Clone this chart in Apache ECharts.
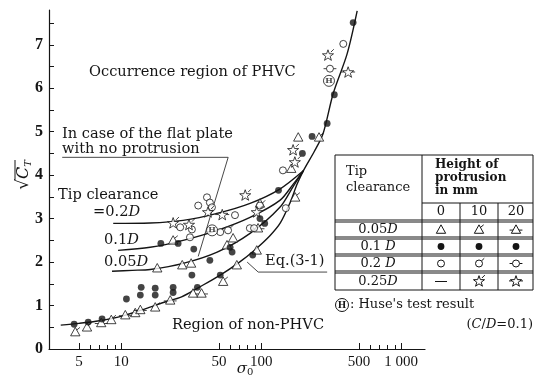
<!DOCTYPE html>
<html><head><meta charset="utf-8">
<script src="https://cdn.jsdelivr.net/npm/echarts@6/dist/echarts.min.js"></script>
<style>html,body{margin:0;padding:0;background:#fff}#c{width:540px;height:382px}</style>
</head><body><div id="c"></div>
<script>
// ---------- axis ticks ----------
const xTickLabels = [5, 10, 50, 100, 500, 1000];
const xMinorTicks = [5, 6, 7, 8, 9, 10, 50, 60, 70, 80, 90, 100, 500, 600, 700, 800, 900, 1000];
const yTickLabels = [0, 1, 2, 3, 4, 5, 6, 7];
const yTicks = [0, 0.5, 1, 1.5, 2, 2.5, 3, 3.5, 4, 4.5, 5, 5.5, 6, 6.5, 7, 7.5];

// ---------- curves [sigma0, sqrtCT] ----------
const curveEq = [[3.7,0.55],[5,0.59],[7,0.65],[10,0.75],[15,0.93],[20,1.07],[27,1.2],[36,1.42],[51,1.7],[70,2.0],[90,2.28],[115,2.6],[137,2.9],[160,3.35],[181,3.8],[200,4.1],[240,4.55],[277,4.96],[327,5.88],[411,6.79],[485,7.78]];
const curve005 = [[8.6,1.79],[12,1.81],[16.1,1.83],[27.7,1.97],[48.5,2.23],[83.3,2.66],[136,3.26],[170,3.75],[200,4.1]];
const curve01 = [[9.5,2.27],[16.1,2.34],[27.7,2.5],[48.5,2.73],[83.3,3.03],[136,3.42],[170,3.8],[200,4.1]];
const curve02 = [[8.77,2.89],[16.1,2.9],[27.7,2.96],[48.5,3.12],[83.3,3.35],[136,3.68],[200,4.1]];

// ---------- annotation leader lines ----------
const leaderFlat = [[3.79,4.41],[58.1,4.41],[35.5,2.13]];
const leaderEq = [[79.4,2.0],[95.2,1.77],[296,1.77]];

// ---------- measured points ----------
const tri0 = [[27.3,1.93],[31.6,1.97],[18.1,1.86],[57,2.39],[63,2.55],[93,2.27],[98,3.35],[184,4.87],[164,4.15],[32.6,1.28],[67,1.93]];
const tri10 = [[4.7,0.39],[5.7,0.5],[8.5,0.67],[12.6,0.83],[17.5,0.96],[53.5,1.55],[259,4.87],[175,3.49],[23.5,2.5]];
const tri20 = [[7.2,0.6],[10.7,0.78],[13.7,0.9],[22.4,1.12],[37.5,1.28],[95,2.78]];
const dots = [[4.61,0.57],[5.81,0.62],[7.3,0.69],[10.9,1.15],[13.7,1.24],[13.9,1.42],[17.5,1.24],[17.5,1.4],[23.5,1.42],[23.5,1.3],[35,1.42],[32,1.7],[51,1.7],[33,2.3],[19.2,2.43],[25.5,2.43],[43,2.04],[60,2.34],[62,2.23],[87,2.16],[98,3.0],[106,2.89],[133,3.65],[197,4.5],[231,4.89],[296,5.19],[333,5.85],[454,7.51]];
const circ0 = [[26.4,2.8],[32,2.75],[35.5,3.3],[41,3.49],[43,3.37],[44.5,3.26],[65,3.08],[83,2.78],[89,2.78],[150,3.24],[386,7.02],[143,4.11],[31,2.57]];
const circ10 = [[51,2.69],[58,2.73],[98,3.3]];
const circ20 = [[310,6.45]];
const star10 = [[23.5,2.89],[30.5,2.85],[41.7,3.14],[76.9,3.53],[169,4.57],[174,4.29],[300,6.75],[93,3.14]];
const star20 = [[52.7,3.08],[418,6.36]];
const huse = [[44.6,2.73],[305,6.17]];

// ---------- symbol shapes (24x24 box) ----------
const BOX = 'M0,0M24,24';
const TRI = 'M12,4L20,18.5L4,18.5Z';
const CIR = 'M12,6A6,6,0,1,1,11.99,6Z';
const STAR = 'M12,2L14.35,8.76L21.51,8.91L15.8,13.24L17.88,20.09L12,16L6.12,20.09L8.2,13.24L2.49,8.91L9.65,8.76Z';
const P = {
  tri0: BOX + TRI,
  tri10: BOX + TRI + 'M14.5,8.5L20,4',
  tri20: BOX + TRI + 'M1,13L7,13M17,13L23,13',
  circ0: BOX + CIR,
  circ10: BOX + CIR + 'M16.2,7.8L21,3',
  circ20: BOX + CIR + 'M1,12L6,12M18,12L23,12',
  star10: BOX + STAR + 'M17,6L22,1',
  star20: BOX + STAR + 'M0,11L5,11M19,11L24,11'
};
const INK = '#151515';
const SERIF = '"DejaVu Serif", serif';

function scat(name, data, pathKey) {
  return { name, type: 'scatter', data, symbol: 'path://' + P[pathKey], symbolSize: 14, symbolKeepAspect: true,
    itemStyle: { color: '#fff', borderColor: INK, borderWidth: 1 }, z: 5, silent: true };
}
function curve(name, data, w) {
  return { name, type: 'line', data, showSymbol: false, smooth: 0.3, lineStyle: { color: INK, width: w || 1.4 }, z: 3, silent: true };
}
function leader(name, data) {
  return { name, type: 'line', data, showSymbol: false, smooth: false, lineStyle: { color: '#333', width: 0.9 }, z: 2, silent: true };
}

const series = [
  curve('Eq.(3-1)', curveEq), curve('0.05D', curve005), curve('0.1D', curve01), curve('0.2D', curve02),
  leader('leaderFlat', leaderFlat), leader('leaderEq', leaderEq),
  scat('tri0', tri0, 'tri0'), scat('tri10', tri10, 'tri10'), scat('tri20', tri20, 'tri20'),
  scat('circ0', circ0, 'circ0'), scat('circ10', circ10, 'circ10'), scat('circ20', circ20, 'circ20'),
  scat('star10', star10, 'star10'), scat('star20', star20, 'star20'),
  { name: 'dots', type: 'scatter', data: dots, symbol: 'circle', symbolSize: 6.8, itemStyle: { color: INK }, z: 6, silent: true },
  { name: 'huse', type: 'scatter', data: huse, symbol: 'circle', symbolSize: 11, z: 7, silent: true,
    itemStyle: { color: '#fff', borderColor: INK, borderWidth: 1 },
    label: { show: true, position: 'inside', formatter: 'H', fontSize: 8, fontWeight: 'bold', color: INK, fontFamily: SERIF } }
];

// ---------- text & table graphics ----------
const G = [];
function txt(x, y, text, size, opt) {
  opt = opt || {};
  G.push({ type: 'text', x, y, z: opt.z || 20, silent: true, style: Object.assign({
    text, font: (opt.weight || 'normal') + ' ' + size + 'px ' + SERIF, fill: INK,
    textAlign: opt.align || 'left', textVerticalAlign: 'middle', verticalAlign: 'middle'
  }, opt.rich ? { rich: opt.rich } : {}) });
}
function ln(x1, y1, x2, y2, w) {
  G.push({ type: 'line', z: 20, silent: true, shape: { x1, y1, x2, y2 }, style: { stroke: INK, lineWidth: w || 1 } });
}
const it = (s) => ({ i: { fontStyle: 'italic', fontSize: s, fontFamily: SERIF } });

const AF = 14.6;
txt(89, 72, 'Occurrence region of PHVC', AF);
txt(62, 134, 'In case of the flat plate', AF);
txt(62, 149, 'with no protrusion', AF);
txt(58, 195, 'Tip clearance', AF);
txt(93, 212, '=0.2{i|D}', AF, { rich: it(AF) });
txt(104, 240, '0.1{i|D}', AF, { rich: it(AF) });
txt(104, 262, '0.05{i|D}', AF, { rich: it(AF) });
txt(265, 261, 'Eq.(3-1)', AF);
txt(172, 325, 'Region of non-PHVC', AF);

// table
const TL = 335, TR = 533, C1 = 422, C2 = 460, C3 = 498;
ln(TL, 155, TR, 155); ln(C1, 203, TR, 203);
[220, 237, 254, 271].forEach(y => { ln(TL, y, TR, y); ln(TL, y + 2, TR, y + 2); });
ln(TL, 290, TR, 290);
ln(TL, 155, TL, 290); ln(TR, 155, TR, 290); ln(C1, 155, C1, 290);
ln(C2, 203, C2, 290); ln(C3, 203, C3, 290);
txt(346, 172, 'Tip', 13); txt(346, 188, 'clearance', 13);
txt(435, 165, 'Height of', 12, { weight: 'bold' });
txt(435, 178, 'protrusion', 12, { weight: 'bold' });
txt(435, 191, 'in mm', 12, { weight: 'bold' });
txt(441, 212, '0', 13, { align: 'center' });
txt(479, 212, '10', 13, { align: 'center' });
txt(516, 212, '20', 13, { align: 'center' });
const rowY = [229.5, 246.5, 263.5, 281.5];
txt(378, rowY[0], '0.05{i|D}', 13, { align: 'center', rich: it(13) });
txt(378, rowY[1], '0.1 {i|D}', 13, { align: 'center', rich: it(13) });
txt(378, rowY[2], '0.2 {i|D}', 13, { align: 'center', rich: it(13) });
txt(378, rowY[3], '0.25{i|D}', 13, { align: 'center', rich: it(13) });
const colX = [441, 479, 516];
const K = 14 / 24;
const pt = (cx, cy, arr) => arr.map(([a, b]) => [cx + (a - 12) * K, cy + (b - 12) * K]);
const TRI_P = [[12,4],[20,18.5],[4,18.5]];
const STAR_P = [[12,2],[14.35,8.76],[21.51,8.91],[15.8,13.24],[17.88,20.09],[12,16],[6.12,20.09],[8.2,13.24],[2.49,8.91],[9.65,8.76]];
function poly(cx, cy, arr) { G.push({ type: 'polygon', z: 21, silent: true, shape: { points: pt(cx, cy, arr) }, style: { fill: '#fff', stroke: INK, lineWidth: 1 } }); }
function seg(cx, cy, a, b, c, d) { const p = pt(cx, cy, [[a, b], [c, d]]); ln(p[0][0], p[0][1], p[1][0], p[1][1]); }
function ring(cx, cy) { G.push({ type: 'circle', z: 21, silent: true, shape: { cx, cy, r: 6 * K }, style: { fill: '#fff', stroke: INK, lineWidth: 1 } }); }
// 0.05D row
poly(colX[0], rowY[0], TRI_P);
poly(colX[1], rowY[0], TRI_P); seg(colX[1], rowY[0], 14.5, 8.5, 20, 4);
poly(colX[2], rowY[0], TRI_P); seg(colX[2], rowY[0], 1, 13, 7, 13); seg(colX[2], rowY[0], 17, 13, 23, 13);
// 0.1D row
colX.forEach(x => G.push({ type: 'circle', z: 21, silent: true, shape: { cx: x, cy: rowY[1], r: 3.4 }, style: { fill: INK } }));
// 0.2D row
ring(colX[0], rowY[2]);
ring(colX[1], rowY[2]); seg(colX[1], rowY[2], 16.2, 7.8, 21, 3);
ring(colX[2], rowY[2]); seg(colX[2], rowY[2], 1, 12, 6, 12); seg(colX[2], rowY[2], 18, 12, 23, 12);
// 0.25D row
ln(colX[0] - 6, rowY[3], colX[0] + 6, rowY[3]);
poly(colX[1], rowY[3], STAR_P); seg(colX[1], rowY[3], 17, 6, 22, 1);
poly(colX[2], rowY[3], STAR_P); seg(colX[2], rowY[3], 0, 11, 5, 11); seg(colX[2], rowY[3], 19, 11, 24, 11);

// Huse note
G.push({ type: 'circle', z: 21, silent: true, shape: { cx: 342, cy: 305, r: 6.5 }, style: { fill: '#fff', stroke: INK, lineWidth: 1 } });
txt(342, 305.5, 'H', 9, { align: 'center', weight: 'bold', z: 23 });
txt(350, 305, ": Huse's test result", 13);
txt(533, 325, '({i|C}/{i|D}=0.1)', 13, { align: 'right', rich: it(13) });

// axis titles
txt(245, 369, '{s|σ}{z|0}', 15, { align: 'center', rich: { s: { fontStyle: 'italic', fontSize: 15, fontFamily: SERIF }, z: { fontSize: 10, fontFamily: SERIF, padding: [7, 0, 0, 0] } } });
G.push({ type: 'group', x: 24, y: 175, rotation: Math.PI / 2, z: 20, children: [
  { type: 'text', x: 0, y: 0, silent: true, style: { text: '{r|√}{c|C}{t|T}', textAlign: 'center', textVerticalAlign: 'middle', verticalAlign: 'middle', fill: INK,
    rich: { r: { fontSize: 17, fontFamily: SERIF }, c: { fontSize: 16, fontStyle: 'italic', fontFamily: SERIF }, t: { fontSize: 10, fontStyle: 'italic', fontFamily: SERIF, padding: [8, 0, 0, 0] } } } },
  { type: 'line', silent: true, shape: { x1: -5, y1: -9, x2: 15, y2: -9 }, style: { stroke: INK, lineWidth: 1 } }
] });

const chart = echarts.init(document.getElementById('c'), null, { renderer: 'canvas' });
chart.setOption({
  animation: false,
  backgroundColor: '#fff',
  grid: { left: 49, right: 115, top: 10, bottom: 33, containLabel: false },
  xAxis: [
    { type: 'log', logBase: 10, min: 3.05, max: 1480, position: 'bottom',
      axisLine: { onZero: false, lineStyle: { color: INK, width: 1.2 } },
      axisTick: { inside: true, length: 4, customValues: xMinorTicks, lineStyle: { color: INK } },
      axisLabel: { customValues: xTickLabels, formatter: v => { const r = Math.round(v); return r === 1000 ? '1 000' : String(r); },
        fontFamily: '"Liberation Serif", serif', fontSize: 15, color: INK, margin: 6 },
      splitLine: { show: false } },
    { type: 'log', logBase: 10, min: 3.05, max: 1480, position: 'bottom',
      axisLine: { show: false, onZero: false },
      axisTick: { inside: true, length: 6, customValues: xTickLabels, lineStyle: { color: INK } },
      axisLabel: { show: false }, splitLine: { show: false } }
  ],
  yAxis: { type: 'value', min: 0, max: 7.8,
    axisLine: { show: true, onZero: false, lineStyle: { color: INK, width: 1.2 } },
    axisTick: { show: true, inside: true, length: 5, customValues: yTicks, lineStyle: { color: INK } },
    axisLabel: { customValues: yTickLabels, fontFamily: '"Liberation Serif", serif', fontWeight: 'bold', fontSize: 16, color: INK, margin: 6 },
    splitLine: { show: false } },
  series,
  graphic: G
});
</script></body></html>
